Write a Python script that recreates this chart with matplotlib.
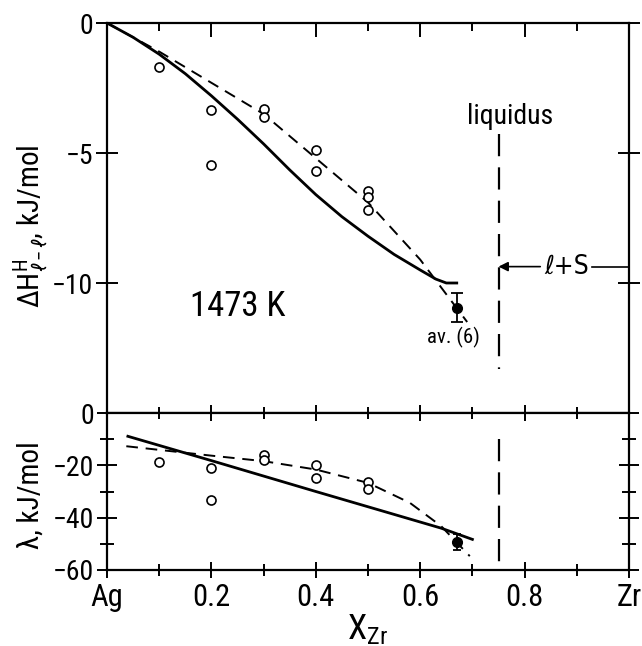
import matplotlib
matplotlib.use("Agg")
import matplotlib.pyplot as plt
from matplotlib import font_manager as fm
import numpy as np

# pick a condensed sans font if one is installed
_names = {f.name for f in fm.fontManager.ttflist}
_family = 'DejaVu Sans'
_stretch = 'normal'
for cand in ['Liberation Sans Narrow', 'Roboto Condensed', 'Open Sans Condensed',
             'DejaVu Sans Condensed', 'Noto Sans Condensed']:
    if cand in _names:
        _family = cand
        break
else:
    if any(f.name == 'DejaVu Sans' and f.stretch == 'condensed' for f in fm.fontManager.ttflist):
        _stretch = 'condensed'
plt.rcParams['font.family'] = [_family, 'DejaVu Sans']
plt.rcParams['font.stretch'] = _stretch
plt.rcParams['mathtext.fontset'] = 'custom'
plt.rcParams['mathtext.rm'] = _family
plt.rcParams['mathtext.it'] = _family + ':italic'

# ---- top panel data (enthalpy of mixing, kJ/mol) ----
h_calc_x = [0.0, 0.05, 0.1, 0.15, 0.2, 0.25, 0.3, 0.35, 0.4, 0.45, 0.5, 0.55, 0.6, 0.63, 0.65, 0.67]
h_calc_y = [0.0, -0.55, -1.2, -1.95, -2.8, -3.7, -4.65, -5.65, -6.6, -7.45, -8.2, -8.9, -9.5, -9.85, -10.0, -10.0]
h_fit_x = [0.0, 0.1, 0.2, 0.3, 0.4, 0.5, 0.6, 0.69]
h_fit_y = [0.0, -1.1, -2.3, -3.5, -5.2, -6.9, -9.1, -11.5]
h_obs_x = [0.1, 0.2, 0.2, 0.3, 0.3, 0.4, 0.4, 0.5, 0.5, 0.5]
h_obs_y = [-1.7, -3.35, -5.45, -3.3, -3.6, -4.9, -5.7, -6.45, -6.7, -7.2]
h_avg_x = [0.67]
h_avg_y = [-10.95]
h_avg_err = [0.55]

# ---- bottom panel data (lambda, kJ/mol) ----
l_calc_x = [0.04, 0.2, 0.4, 0.64, 0.70]
l_calc_y = [-8.9, -18.2, -30.0, -44.0, -48.3]
l_fit_x = [0.037, 0.2, 0.3, 0.4, 0.5, 0.58, 0.64, 0.695]
l_fit_y = [-12.7, -16.3, -18.4, -21.6, -26.7, -34.3, -43.2, -54.7]
l_obs_x = [0.1, 0.2, 0.2, 0.3, 0.3, 0.4, 0.4, 0.5, 0.5]
l_obs_y = [-18.6, -21.0, -33.1, -15.9, -17.8, -19.8, -24.8, -26.4, -29.2]
l_avg_x = [0.67]
l_avg_y = [-49.3]
l_avg_err = [3.2]

liquidus_x = 0.75
x_ticks = [0.0, 0.2, 0.4, 0.6, 0.8, 1.0]
x_ticklabels = ['Ag', '0.2', '0.4', '0.6', '0.8', 'Zr']
top_yticks = [0, -5, -10]
top_yticklabels = ['0', '\u22125', '\u221210']
bot_yticks = [0, -20, -40, -60]
bot_yticklabels = ['0', '\u221220', '\u221240', '\u221260']

fig = plt.figure(figsize=(6.42, 6.46), dpi=100)
L, R = 107/642, 629/642
ax1 = fig.add_axes([L, 1-413/646, R-L, (413-23)/646])
ax2 = fig.add_axes([L, 1-570/646, R-L, (570-413)/646])

dash = (6, 4)

for ax in (ax1, ax2):
    for s in ax.spines.values():
        s.set_linewidth(1.6)
    ax.set_xlim(0, 1)
    ax.set_xticks(x_ticks)
    ax.set_xticks(np.arange(0.1, 1.0, 0.2), minor=True)

# top panel
ax1.set_ylim(-15, 0)
ax1.plot(h_calc_x, h_calc_y, color='black', lw=2)
ax1.plot(h_fit_x, h_fit_y, color='black', lw=1.4, dashes=dash)
ax1.plot(h_obs_x, h_obs_y, 'o', mfc='white', mec='black', ms=6.5, mew=1.2)
ax1.errorbar(h_avg_x, h_avg_y, yerr=h_avg_err, fmt='o', color='black', ms=7,
             capsize=4, elinewidth=1.3, capthick=1.3)
ax1.plot([liquidus_x, liquidus_x], [-4.25, -13.3], color='black', lw=1.6, dashes=(10, 5))
ax1.text(0.772, -3.6, 'liquidus', fontsize=20, ha='center', va='center')
ax1.text(0.663, -12.1, 'av. (6)', fontsize=15, ha='center', va='center')
ax1.text(0.25, -10.9, '1473 K', fontsize=25, ha='center', va='center')
ax1.text(0.88, -9.37, '\u2113+S', fontsize=19, ha='center', va='center',
         family=['DejaVu Sans'], stretch='condensed')
ax1.annotate('', xy=(liquidus_x, -9.37), xytext=(0.83, -9.37),
             arrowprops=dict(arrowstyle='-|>', color='black', lw=1.2,
                             mutation_scale=14, shrinkA=0, shrinkB=0))
ax1.plot([0.93, 1.0], [-9.37, -9.37], color='black', lw=1.2)
ax1.set_yticks(top_yticks)
ax1.set_yticklabels(top_yticklabels)
ax1.tick_params(axis='x', which='both', top=True, bottom=False, direction='in',
                labelbottom=False)
ax1.tick_params(axis='x', which='major', length=10, width=1.4)
ax1.tick_params(axis='x', which='minor', length=6, width=1.4)
ax1.tick_params(axis='y', which='major', left=True, right=True, direction='inout',
                length=16, width=1.4, labelsize=20, pad=2)
ax1.set_ylabel('$\\Delta\\mathrm{H}^{\\mathrm{H}}_{\\ell-\\ell}$, kJ/mol', fontsize=21)
ax1.yaxis.set_label_coords(-0.11, 0.48)

# bottom panel
ax2.set_ylim(-60, 0)
ax2.plot(l_calc_x, l_calc_y, color='black', lw=2)
ax2.plot(l_fit_x, l_fit_y, color='black', lw=1.4, dashes=dash)
ax2.plot(l_obs_x, l_obs_y, 'o', mfc='white', mec='black', ms=6.5, mew=1.2)
ax2.errorbar(l_avg_x, l_avg_y, yerr=l_avg_err, fmt='o', color='black', ms=7,
             capsize=3, elinewidth=1.3, capthick=1.3)
ax2.plot([liquidus_x, liquidus_x], [-10, -57], color='black', lw=1.6, dashes=(10, 5))
ax2.set_yticks(bot_yticks)
ax2.set_yticklabels(bot_yticklabels)
ax2.set_yticks([-10, -30, -50], minor=True)
ax2.tick_params(axis='x', which='both', top=True, bottom=True, direction='inout',
                labelsize=22)
ax2.tick_params(axis='x', which='major', length=12, width=1.4)
ax2.tick_params(axis='x', which='minor', length=8, width=1.4)
ax2.tick_params(axis='y', which='both', left=True, right=True, direction='inout',
                width=1.4, labelsize=20, pad=2)
ax2.tick_params(axis='y', which='major', length=14)
ax2.tick_params(axis='y', which='minor', length=10)
ax2.set_xticklabels(x_ticklabels)
ax2.set_ylabel('\u03bb, kJ/mol', fontsize=21)
ax2.yaxis.set_label_coords(-0.12, 0.48)
ax2.set_xlabel('X$_{\\mathrm{Zr}}$', fontsize=25, labelpad=0)

fig.savefig('out.png', dpi=100)
